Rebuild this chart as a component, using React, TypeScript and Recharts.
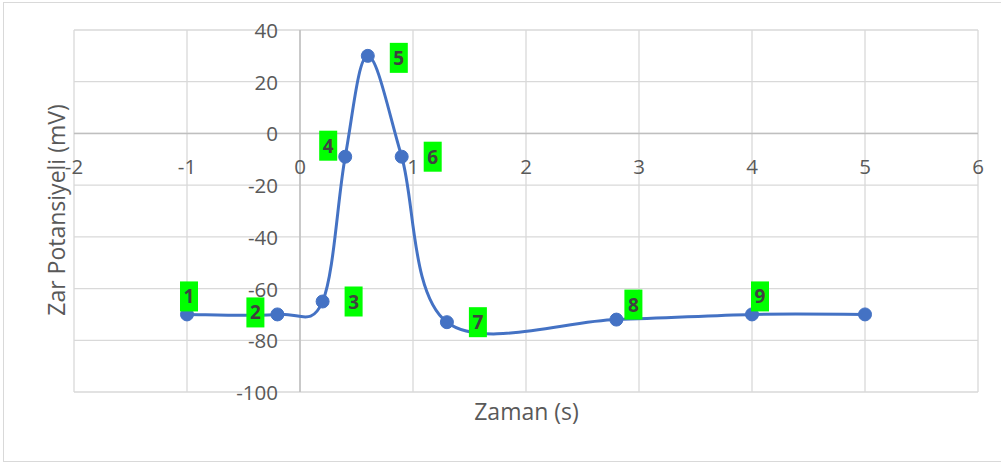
import { LineChart, Line, XAxis, YAxis, CartesianGrid, ReferenceLine, LabelList } from "recharts";

// ── Data ──────────────────────────────────────────────────────────────────────

const TIME = [-1, -0.2, 0.2, 0.4, 0.6, 0.9, 1.3, 2.8, 4, 5];
const VOLTAGE = [-70, -70, -65, -9, 30, -9, -73, -72, -70, -70];
const POINT_LABELS = ["1", "2", "3", "4", "5", "6", "7", "8", "9", ""];

const X_TICKS = [-2, -1, 0, 1, 2, 3, 4, 5, 6];
const Y_TICKS = [-100, -80, -60, -40, -20, 0, 20, 40];

// label box offsets from its point (px), as placed in the original
const LABEL_OFFSETS: ([number, number] | null)[] = [
  [2, -18], [-22, -2], [31, 0], [-17, -11], [31, 2], [31, 0], [31, 0], [17, -15], [8, -18], null,
];

// ── Layout ────────────────────────────────────────────────────────────────────

const W = 1001;
const H = 465;
const AXIS_W = 1;
const MARGIN = { top: 30, right: 23, bottom: 73 - AXIS_W, left: 74 - AXIS_W };
const X_DOMAIN: [number, number] = [-2, 6];
const Y_DOMAIN: [number, number] = [-100, 40];

const PLOT_LEFT = MARGIN.left + AXIS_W;
const PLOT_W = W - PLOT_LEFT - MARGIN.right;
const PLOT_H = H - MARGIN.top - MARGIN.bottom - AXIS_W;
const X0_PX = PLOT_LEFT + ((0 - X_DOMAIN[0]) / (X_DOMAIN[1] - X_DOMAIN[0])) * PLOT_W;
const Y0_PX = MARGIN.top + ((Y_DOMAIN[1] - 0) / (Y_DOMAIN[1] - Y_DOMAIN[0])) * PLOT_H;

const FONT = "'Open Sans', sans-serif";
const TEXT = "#595959";
const BLUE = "#4472C4";
const TICK_SIZE = 20.5;

const data = TIME.map((t, i) => ({ t, v: VOLTAGE[i], label: POINT_LABELS[i] }));

// Excel-like smoothed line (Catmull-Rom through the points)
function excelSmooth(context: any) {
  let pts: [number, number][] = [];
  return {
    areaStart() {},
    areaEnd() {},
    lineStart() { pts = []; },
    point(x: number, y: number) { pts.push([+x, +y]); },
    lineEnd() {
      if (!pts.length) return;
      context.moveTo(pts[0][0], pts[0][1]);
      for (let i = 0; i < pts.length - 1; i++) {
        const p0 = pts[Math.max(0, i - 1)];
        const p1 = pts[i];
        const p2 = pts[i + 1];
        const p3 = pts[Math.min(pts.length - 1, i + 2)];
        context.bezierCurveTo(
          p1[0] + (p2[0] - p0[0]) / 6, p1[1] + (p2[1] - p0[1]) / 6,
          p2[0] - (p3[0] - p1[0]) / 6, p2[1] - (p3[1] - p1[1]) / 6,
          p2[0], p2[1],
        );
      }
    },
  };
}

const YTick = (props: any) => (
  <text x={X0_PX - 22} y={props.y} textAnchor="end" dominantBaseline="central"
    fontFamily={FONT} fontSize={TICK_SIZE} fill={TEXT}>
    {props.payload.value}
  </text>
);

const XTick = (props: any) => (
  <text x={props.x} y={Y0_PX + 33} textAnchor="middle" dominantBaseline="central"
    fontFamily={FONT} fontSize={TICK_SIZE} fill={TEXT}>
    {props.payload.value}
  </text>
);

const PointLabel = (props: any) => {
  const i = props.index ?? POINT_LABELS.indexOf(props.value);
  const off = LABEL_OFFSETS[i];
  if (!off || !props.value) return null;
  const cx = props.x + off[0];
  const cy = props.y + off[1];
  return (
    <g>
      <rect x={cx - 9} y={cy - 15} width={18} height={30} fill="#00FF00" />
      <text x={cx} y={cy} textAnchor="middle" dominantBaseline="central"
        fontFamily={FONT} fontWeight={700} fontSize={19} fill="#404040">
        {props.value}
      </text>
    </g>
  );
};

export default function App() {
  return (
    <div style={{ position: "absolute", left: 0, top: 0, width: W, height: H, background: "#fff", overflow: "hidden" }}>
      <div style={{ position: "absolute", left: 3, top: 2, width: 1010, height: 458, border: "1px solid #d9d9d9" }} />
      <LineChart width={W} height={H} data={data} margin={MARGIN} style={{ position: "absolute", left: 0, top: 0 }}>
        <CartesianGrid stroke="#d9d9d9" strokeWidth={1.3} />
        <XAxis dataKey="t" type="number" domain={X_DOMAIN} ticks={X_TICKS} height={AXIS_W}
          axisLine={false} tickLine={false} tick={XTick} interval={0} />
        <YAxis type="number" domain={Y_DOMAIN} ticks={Y_TICKS} width={AXIS_W}
          axisLine={false} tickLine={false} tick={YTick} interval={0} />
        <ReferenceLine x={0} stroke="#bfbfbf" strokeWidth={1.5} />
        <ReferenceLine y={0} stroke="#bfbfbf" strokeWidth={1.5} />
        <Line dataKey="v" type={excelSmooth as any} stroke={BLUE} strokeWidth={3}
          dot={{ r: 6.5, fill: BLUE, stroke: BLUE, strokeWidth: 1 }} activeDot={false}
          isAnimationActive={false}>
          <LabelList dataKey="label" content={PointLabel} />
        </Line>
      </LineChart>
      <div style={{ position: "absolute", left: 0, width: W - 0, top: 396, textAlign: "center", paddingLeft: 52,
        boxSizing: "border-box", fontFamily: FONT, fontSize: 23, color: TEXT, lineHeight: "30px" }}>
        Zaman (s)
      </div>
      <div style={{ position: "absolute", left: 56, top: 210, transform: "translate(-50%, -50%) rotate(-90deg)",
        whiteSpace: "nowrap", fontFamily: FONT, fontSize: 23, color: TEXT, lineHeight: "30px" }}>
        Zar Potansiyeli (mV)
      </div>
    </div>
  );
}
